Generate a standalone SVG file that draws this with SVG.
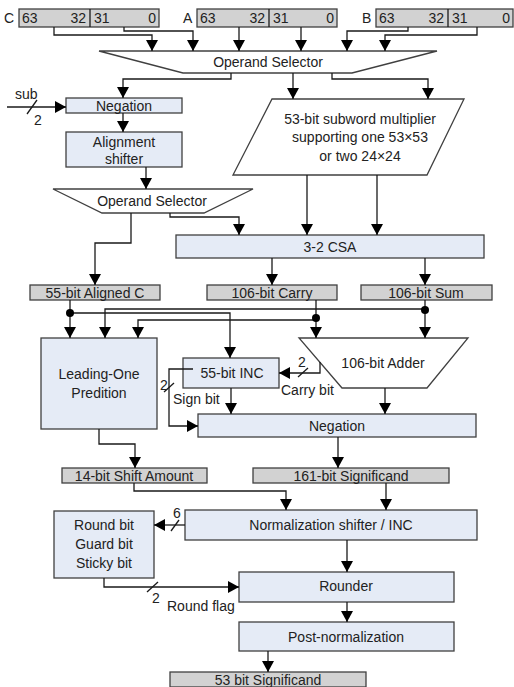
<svg xmlns="http://www.w3.org/2000/svg" width="514" height="687" viewBox="0 0 514 687">
<defs>
<marker id="ah" markerUnits="userSpaceOnUse" markerWidth="11" markerHeight="12" refX="11" refY="6" orient="auto">
<path d="M0,0 L11,6 L0,12 z" fill="#000"/>
</marker>
<style>
text{font-family:"Liberation Sans",Arial,sans-serif;font-size:14px;fill:#222;}
.c{text-anchor:middle;}
.blue{fill:#E5EBF6;stroke:#404040;stroke-width:1.3;}
.gray{fill:#D2D2D2;stroke:#404040;stroke-width:1.3;}
.white{fill:#fff;stroke:#404040;stroke-width:1.3;}
.w{fill:none;stroke:#1a1a1a;stroke-width:1.3;}
.a{fill:none;stroke:#1a1a1a;stroke-width:1.3;marker-end:url(#ah);}
.dot{fill:#000;}
</style>
</defs>
<rect width="514" height="687" fill="#fff"/>

<g id="regC">
<text x="4" y="23">C</text>
<rect class="gray" x="19" y="9" width="140" height="18"/>
<line class="w" x1="90" y1="9" x2="90" y2="27"/>
<text x="22" y="23">63</text><text x="86" y="23" text-anchor="end">32</text>
<text x="94" y="23">31</text><text x="156" y="23" text-anchor="end">0</text>
</g>
<g id="regA">
<text x="183" y="23">A</text>
<rect class="gray" x="197" y="9" width="140" height="18"/>
<line class="w" x1="269" y1="9" x2="269" y2="27"/>
<text x="200" y="23">63</text><text x="265" y="23" text-anchor="end">32</text>
<text x="273" y="23">31</text><text x="334" y="23" text-anchor="end">0</text>
</g>
<g id="regB">
<text x="362" y="23">B</text>
<rect class="gray" x="376" y="9" width="137" height="18"/>
<line class="w" x1="448" y1="9" x2="448" y2="27"/>
<text x="379" y="23">63</text><text x="444" y="23" text-anchor="end">32</text>
<text x="452" y="23">31</text><text x="510" y="23" text-anchor="end">0</text>
</g>

<g id="opsel1">
<polygon class="white" points="99,51 437,51 352,73 183,73"/>
<text class="c" x="268" y="67">Operand Selector</text>
</g>
<g id="neg1">
<rect class="blue" x="66" y="98" width="116" height="15"/>
<text class="c" x="124" y="111">Negation</text>
</g>
<g id="align">
<rect class="blue" x="66" y="132" width="116" height="35"/>
<text class="c" x="124" y="147">Alignment</text>
<text class="c" x="124" y="164">shifter</text>
</g>
<g id="mult">
<polygon class="white" points="272,99 464,99 427,175 233,175"/>
<text class="c" x="360" y="124">53-bit subword multiplier</text>
<text class="c" x="360" y="142">supporting one 53×53</text>
<text class="c" x="360" y="161">or two 24×24</text>
</g>
<g id="opsel2">
<polygon class="white" points="53,189 253,189 204,213 102,213"/>
<text class="c" x="152" y="206">Operand Selector</text>
</g>
<g id="csa">
<rect class="blue" x="176" y="235" width="308" height="23"/>
<text class="c" x="330" y="252">3-2 CSA</text>
</g>
<g id="alignedC">
<rect class="gray" x="30" y="285" width="130" height="15"/>
<text class="c" x="95" y="298">55-bit Aligned C</text>
</g>
<g id="carry">
<rect class="gray" x="207" y="285" width="130" height="15"/>
<text class="c" x="272" y="298">106-bit Carry</text>
</g>
<g id="sum">
<rect class="gray" x="361" y="285" width="131" height="15"/>
<text class="c" x="426" y="298">106-bit Sum</text>
</g>
<g id="lop">
<rect class="blue" x="41" y="338" width="116" height="91"/>
<text class="c" x="99" y="379">Leading-One</text>
<text class="c" x="99" y="398">Predition</text>
</g>
<g id="inc">
<rect class="blue" x="183" y="358" width="96" height="30"/>
<text class="c" x="232" y="378">55-bit INC</text>
</g>
<g id="adder">
<polygon class="white" points="299,338 468,338 427,388 342,388"/>
<text class="c" x="383" y="368">106-bit Adder</text>
</g>
<g id="neg2">
<rect class="blue" x="198" y="414" width="278" height="23"/>
<text class="c" x="337" y="431">Negation</text>
</g>
<g id="shift">
<rect class="gray" x="62" y="468" width="145" height="15"/>
<text class="c" x="134" y="481">14-bit Shift Amount</text>
</g>
<g id="sig161">
<rect class="gray" x="253" y="468" width="196" height="15"/>
<text class="c" x="351" y="481">161-bit Significand</text>
</g>
<g id="norm">
<rect class="blue" x="185" y="510" width="292" height="30"/>
<text class="c" x="331" y="530">Normalization shifter / INC</text>
</g>
<g id="rgs">
<rect class="blue" x="54" y="511" width="100" height="67"/>
<text class="c" x="104" y="530">Round bit</text>
<text class="c" x="104" y="549">Guard bit</text>
<text class="c" x="104" y="568">Sticky bit</text>
</g>
<g id="rounder">
<rect class="blue" x="239" y="572" width="215" height="30"/>
<text class="c" x="346" y="591">Rounder</text>
</g>
<g id="post">
<rect class="blue" x="239" y="622" width="215" height="29"/>
<text class="c" x="346" y="642">Post-normalization</text>
</g>
<g id="sig53">
<rect class="gray" x="170" y="672" width="196" height="15"/>
<text class="c" x="268" y="685">53 bit Significand</text>
</g>

<g id="connectors">
<path class="a" d="M54,27 V35 H152 V51"/>
<path class="a" d="M124,27 V31 H193 V51"/>
<path class="a" d="M239,27 V51"/>
<path class="a" d="M301,27 V51"/>
<path class="a" d="M408,27 V31 H347 V51"/>
<path class="a" d="M477,27 V35 H385 V51"/>
<path class="a" d="M231,73 V79 H123 V98"/>
<path class="a" d="M293,73 V99"/>
<path class="a" d="M332,73 V79 H428 V99"/>
<path class="a" d="M7,107 H66"/>
<line class="w" x1="27" y1="114" x2="37" y2="100"/>
<text x="15" y="99">sub</text>
<text x="34" y="125">2</text>
<path class="a" d="M123,113 V132"/>
<path class="a" d="M146,167 V189"/>
<path class="a" d="M131,213 V243 H95 V285"/>
<path class="a" d="M170,213 V217 H239 V235"/>
<path class="a" d="M307,175 V235"/>
<path class="a" d="M377,175 V235"/>
<path class="a" d="M272,258 V285"/>
<path class="a" d="M425,258 V285"/>
<path class="a" d="M70,300 V338"/>
<path class="a" d="M70,313 H230 V358"/>
<circle class="dot" cx="70" cy="313" r="4"/>
<path class="a" d="M425,300 V338"/>
<path class="a" d="M425,309 H105 V338"/>
<circle class="dot" cx="425" cy="310" r="4"/>
<path class="a" d="M316,300 V338"/>
<path class="a" d="M316,320 H138 V338"/>
<circle class="dot" cx="316" cy="318" r="4"/>
<path class="a" d="M231,388 V414"/>
<path class="a" d="M193,369 H169 V426 H198"/>
<line class="w" x1="164" y1="392" x2="174" y2="383"/>
<text x="160" y="390">2</text>
<text x="173" y="404">Sign bit</text>
<path class="a" d="M320,362 V373 H279"/>
<line class="w" x1="298" y1="377" x2="308" y2="368"/>
<text x="298" y="367">2</text>
<text x="281" y="395">Carry bit</text>
<path class="a" d="M385,388 V414"/>
<path class="a" d="M99,429 V444 H135 V468"/>
<path class="a" d="M338,437 V468"/>
<path class="a" d="M134,483 V491 H286 V510"/>
<path class="a" d="M386,483 V510"/>
<path class="a" d="M185,525 H154"/>
<line class="w" x1="171" y1="531" x2="179" y2="520"/>
<text x="173" y="518">6</text>
<path class="a" d="M347,540 V572"/>
<path class="a" d="M104,578 V587 H239"/>
<line class="w" x1="147" y1="592" x2="158" y2="582"/>
<text x="152" y="603">2</text>
<text x="167" y="611">Round flag</text>
<path class="a" d="M347,602 V622"/>
<path class="a" d="M268,651 V672"/>
</g>
</svg>
